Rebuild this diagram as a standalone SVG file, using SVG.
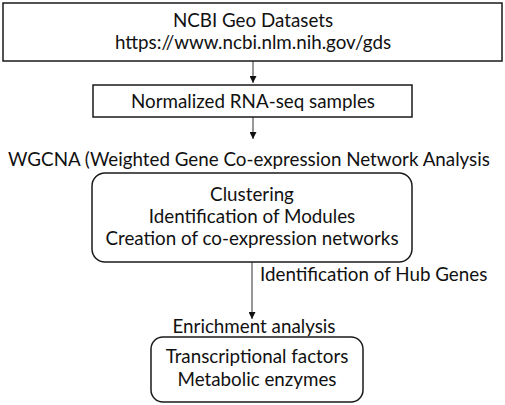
<svg xmlns="http://www.w3.org/2000/svg" width="505" height="405" viewBox="0 0 505 405">
<style>
.box{fill:#fff;stroke:#1a1a1a;stroke-width:1.5}
.t{font-family:Lato,"Liberation Sans",Arial,sans-serif;font-size:18.8px;fill:#111;text-anchor:middle}
.l{font-family:Lato,"Liberation Sans",Arial,sans-serif;font-size:18.8px;fill:#111}
.c{stroke:#333;stroke-width:1;fill:none;marker-end:url(#ah)}
</style>
<defs>
<marker id="ah" viewBox="0 0 8 8" refX="8" refY="4" markerWidth="7" markerHeight="7" markerUnits="userSpaceOnUse" orient="auto">
<path d="M0,0 L8,4 L0,8 z" fill="#111"/>
</marker>
</defs>
<rect width="505" height="405" fill="#fff"/>
<g id="connectors">
<line class="c" x1="253" y1="61" x2="253" y2="83"/>
<line class="c" x1="253" y1="117" x2="253" y2="139"/>
<line class="c" x1="252" y1="262" x2="252" y2="319"/>
<text class="l" x="260" y="281">Identification of Hub Genes</text>
</g>
<g id="geo">
<rect class="box" x="3" y="3" width="499" height="58"/>
<text class="t" x="253" y="27">NCBI Geo Datasets</text>
<text class="t" x="253" y="49">https://www.ncbi.nlm.nih.gov/gds</text>
</g>
<g id="normalized">
<rect class="box" x="93" y="85" width="319" height="32"/>
<text class="t" x="253" y="108">Normalized RNA-seq samples</text>
</g>
<g id="wgcna">
<text class="t" x="249" y="166">WGCNA (Weighted Gene Co-expression Network Analysis</text>
<rect class="box" x="92" y="173" width="320" height="89" rx="13" ry="13"/>
<text class="t" x="252" y="201">Clustering</text>
<text class="t" x="252" y="223">Identification of Modules</text>
<text class="t" x="252" y="245">Creation of co-expression networks</text>
</g>
<g id="enrichment">
<text class="t" x="254" y="333">Enrichment analysis</text>
<rect class="box" x="151" y="337" width="212" height="65" rx="12" ry="12"/>
<text class="t" x="257" y="363">Transcriptional factors</text>
<text class="t" x="257" y="386">Metabolic enzymes</text>
</g>
</svg>
